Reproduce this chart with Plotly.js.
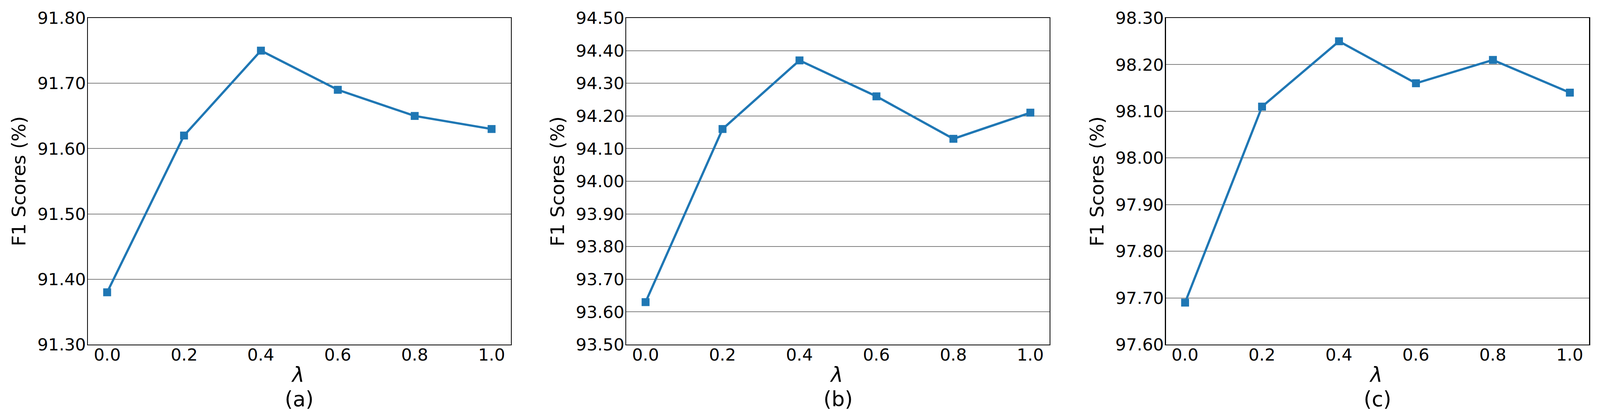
<!DOCTYPE html>
<html>
<head>
<meta charset="utf-8">
<script src="https://cdn.plot.ly/plotly-3.0.1.min.js"></script>
<style>
html,body{margin:0;padding:0;background:#fff;overflow:hidden;}
#chart{position:absolute;left:0;top:0;}
</style>
</head>
<body>
<div id="chart"></div>
<script>
// lambda values and tick labels
var lambdas = [0.0, 0.2, 0.4, 0.6, 0.8, 1.0];
var lambdaTicks = ['0.0', '0.2', '0.4', '0.6', '0.8', '1.0'];

// F1 scores (%) for each panel
var f1A = [91.38, 91.62, 91.75, 91.69, 91.65, 91.63];
var f1B = [93.63, 94.16, 94.37, 94.26, 94.13, 94.21];
var f1C = [97.69, 98.11, 98.25, 98.16, 98.21, 98.14];

var panelLabels = ['(a)', '(b)', '(c)'];

// reference size; the page follows the real window size
var RW = 4404, RH = 1070;
var W = window.innerWidth || RW, H = window.innerHeight || RH;
var k = (W / RW + H / RH) / 2;
var blue = '#1f77b4';
var font = 'DejaVu Sans, sans-serif';

// plot boxes in reference pixels (left, right), shared top/bottom
var boxes = [[242, 1406], [1724, 2889], [3209, 4374]];
var boxTop = 46, boxBottom = 882;
var yRanges = [[91.3, 91.8], [93.5, 94.5], [97.6, 98.3]];
var series = [f1A, f1B, f1C];

document.getElementById('chart').style.width = W + 'px';
document.getElementById('chart').style.height = H + 'px';

var data = [];
var layout = {
  width: W, height: H,
  margin: {l: 0, r: 0, t: 0, b: 0, pad: 0},
  paper_bgcolor: '#fff', plot_bgcolor: '#fff',
  showlegend: false,
  font: {family: font, color: '#000'},
  annotations: []
};

series.forEach(function (vals, i) {
  var n = i === 0 ? '' : String(i + 1);
  data.push({
    x: lambdas, y: vals,
    xaxis: 'x' + n, yaxis: 'y' + n,
    type: 'scatter', mode: 'lines+markers',
    line: {color: blue, width: 6 * k},
    marker: {symbol: 'square', size: 21 * k, color: blue, line: {width: 0}},
    hoverinfo: 'skip'
  });

  var x0 = boxes[i][0] / RW, x1 = boxes[i][1] / RW;
  var y0 = 1 - boxBottom / RH, y1 = 1 - boxTop / RH;

  layout['xaxis' + n] = {
    domain: [x0, x1], anchor: 'y' + n,
    range: [-0.05, 1.05],
    tickvals: lambdas, showticklabels: false,
    ticks: '', showgrid: false, zeroline: false,
    showline: true, mirror: true, linecolor: '#000', linewidth: 2.5 * k
  };
  layout['yaxis' + n] = {
    domain: [y0, y1], anchor: 'x' + n,
    range: [yRanges[i][0], yRanges[i][1] + 1e-7], dtick: 0.1, tick0: 0,
    tickformat: '.2f',
    ticks: '', showgrid: true, gridcolor: '#808080', gridwidth: 2 * k,
    zeroline: false,
    showline: true, mirror: true, linecolor: '#000', linewidth: 2.5 * k,
    tickfont: {family: font, size: 45 * k, color: '#000'},
    ticklabelstandoff: -6
  };

  // x tick labels placed on the axis scale
  lambdas.forEach(function (v, j) {
    layout.annotations.push({
      xref: 'x' + n, yref: 'paper', x: v, y: 1 - 908 / RH,
      text: lambdaTicks[j], showarrow: false, xanchor: 'center', yanchor: 'middle',
      font: {family: font, size: 45 * k, color: '#000'}
    });
  });

  var cx = (boxes[i][0] + boxes[i][1]) / 2 / RW;
  layout.annotations.push({
    xref: 'paper', yref: 'paper', x: cx - 5 / RW, y: 1 - 960 / RH,
    text: '<i>λ</i>', showarrow: false, xanchor: 'center', yanchor: 'middle',
    font: {family: font, size: 55 * k, color: '#000'}
  });
  layout.annotations.push({
    xref: 'paper', yref: 'paper', x: cx, y: 1 - 1022 / RH,
    text: panelLabels[i], showarrow: false, xanchor: 'center', yanchor: 'middle',
    font: {family: font, size: 55 * k, color: '#000'}
  });
  layout.annotations.push({
    xref: 'paper', yref: 'paper', x: (boxes[i][0] - 190) / RW, y: 1 - 464 / RH,
    text: 'F1 Scores (%)', showarrow: false, textangle: -90,
    xanchor: 'center', yanchor: 'middle',
    font: {family: font, size: 50 * k, color: '#000'}
  });
});

Plotly.newPlot('chart', data, layout, {staticPlot: true, displayModeBar: false});
</script>
</body>
</html>
